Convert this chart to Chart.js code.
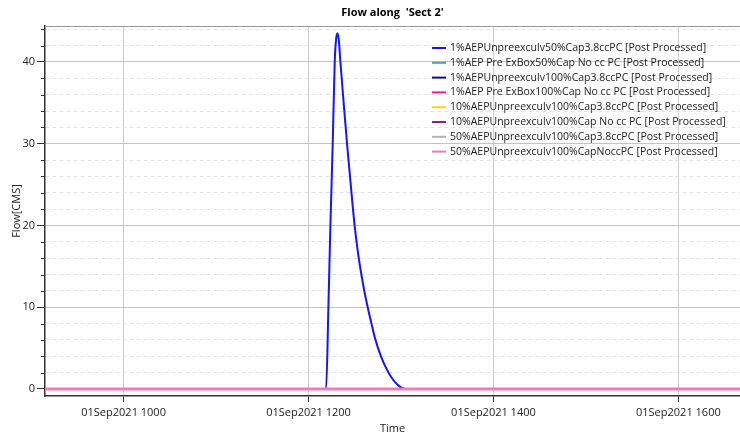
<!DOCTYPE html>
<html>
<head>
<meta charset="utf-8">
<script src="https://cdn.jsdelivr.net/npm/chart.js@4.4.0/dist/chart.umd.min.js"></script>
<style>
html, body { margin: 0; padding: 0; background: #fff; }
</style>
</head>
<body>
<canvas id="chart1" width="740" height="438"></canvas>
<script>
// Series shown in the legend (same order as the picture)
const seriesLabels = [
  '1%AEPUnpreexculv50%Cap3.8ccPC [Post Processed]',
  '1%AEP Pre ExBox50%Cap No cc PC [Post Processed]',
  '1%AEPUnpreexculv100%Cap3.8ccPC [Post Processed]',
  '1%AEP Pre ExBox100%Cap No cc PC [Post Processed]',
  '10%AEPUnpreexculv100%Cap3.8ccPC [Post Processed]',
  '10%AEPUnpreexculv100%Cap No cc PC [Post Processed]',
  '50%AEPUnpreexculv100%Cap3.8ccPC [Post Processed]',
  '50%AEPUnpreexculv100%CapNoccPC [Post Processed]'
];
const seriesColors = ['#1414ff', '#5aa0a8', '#10108c', '#ff1493', '#ffd700', '#8b1a9b', '#b4b4b4', '#ea7fb8'];

// Time = minutes after midnight, 01Sep2021
const flowTimes  = [549, 731.4, 732.9, 734.2, 735.7, 737, 737.9, 738.8, 739.7, 740.7, 742.8, 745, 747.4, 749.8, 752, 754.3, 756.4, 758.4, 760.6, 763.3, 767, 771.9, 775, 777.6, 780, 782.7, 1000];
const flowValues = [0, 0, 10, 20, 30, 40, 42.8, 43.5, 42.6, 40, 35, 30, 25, 20.2, 16.8, 14, 11.8, 10, 8.2, 6.1, 4, 2, 1.1, 0.55, 0.2, 0, 0];
const zeroTimes  = [549, 1000];
const zeroValues = [0, 0];

// Axes
const xTickValues = [600, 720, 840, 960];
const xTickLabels = ['01Sep2021 1000', '01Sep2021 1200', '01Sep2021 1400', '01Sep2021 1600'];
const yTickValues = [0, 2, 4, 6, 8, 10, 12, 14, 16, 18, 20, 22, 24, 26, 28, 30, 32, 34, 36, 38, 40, 42, 44];

const FONT = "'Open Sans', 'Noto Sans', sans-serif";

function toPoints(xs, ys) {
  return xs.map((x, i) => ({ x: x, y: ys[i] }));
}

const datasets = seriesLabels.map((label, i) => ({
  label: label,
  data: i === 0 ? toPoints(flowTimes, flowValues) : toPoints(zeroTimes, zeroValues),
  borderColor: seriesColors[i],
  backgroundColor: seriesColors[i],
  borderWidth: i === seriesLabels.length - 1 ? 3 : 2,
  pointRadius: 0,
  fill: false,
  cubicInterpolationMode: 'monotone',
  order: seriesLabels.length - i
}));

const isMajor = v => v % 10 === 0;

// title, legend, top border and minor ticks
const decorPlugin = {
  id: 'decor',
  afterDraw(chart) {
    const ctx = chart.ctx;
    const area = chart.chartArea;
    const yScale = chart.scales.y;
    ctx.save();

    // top border
    ctx.strokeStyle = '#9a9a9a';
    ctx.lineWidth = 1;
    ctx.beginPath();
    ctx.moveTo(area.left, area.top + 0.5);
    ctx.lineTo(area.right, area.top + 0.5);
    ctx.stroke();

    // minor ticks on y
    ctx.strokeStyle = '#333';
    yTickValues.forEach(v => {
      if (isMajor(v)) return;
      const py = Math.round(yScale.getPixelForValue(v)) + 0.5;
      ctx.beginPath();
      ctx.moveTo(area.left - 4, py);
      ctx.lineTo(area.left, py);
      ctx.stroke();
    });

    // title
    ctx.fillStyle = '#000';
    ctx.font = 'bold 11px ' + FONT;
    ctx.textAlign = 'center';
    ctx.textBaseline = 'middle';
    ctx.fillText("Flow along  'Sect 2'", (area.left + area.right) / 2, 13);

    // legend
    ctx.font = '10.5px ' + FONT;
    ctx.textAlign = 'left';
    const lx = area.left + 387;
    const ly = area.top + 22;
    chart.data.datasets.forEach((ds, i) => {
      const y = ly + i * 14.8;
      ctx.strokeStyle = ds.borderColor;
      ctx.lineWidth = 2;
      ctx.beginPath();
      ctx.moveTo(lx, y);
      ctx.lineTo(lx + 14, y);
      ctx.stroke();
      ctx.fillStyle = '#222';
      ctx.fillText(ds.label, lx + 18, y);
    });
    ctx.restore();
  }
};

const chartConfig = {
  type: 'line',
  data: { datasets: datasets },
  options: {
    responsive: false,
    animation: false,
    layout: { padding: { top: 26, right: 0, bottom: 0, left: 0 } },
    plugins: {
      legend: { display: false },
      title: { display: false },
      tooltip: { enabled: false }
    },
    scales: {
      x: {
        type: 'linear',
        min: 549,
        max: 1000,
        afterBuildTicks: s => { s.ticks = xTickValues.map(v => ({ value: v })); },
        afterFit: s => { s.height = 42; },
        ticks: {
          callback: (v, i) => xTickLabels[i],
          autoSkip: false,
          maxRotation: 0,
          padding: 4,
          color: '#222',
          font: { family: FONT, size: 11 }
        },
        grid: { color: '#cccccc', lineWidth: 1, tickColor: '#333', tickLength: 6 },
        border: { color: '#333', width: 1.5 },
        title: {
          display: true,
          text: 'Time',
          color: '#222',
          font: { family: FONT, size: 11 },
          padding: { top: 0, bottom: 3 }
        }
      },
      y: {
        min: -0.86,
        max: 44.4,
        afterBuildTicks: s => { s.ticks = yTickValues.map(v => ({ value: v })); },
        afterFit: s => { s.width = 45; },
        ticks: {
          callback: v => isMajor(v) ? String(v) : '',
          autoSkip: false,
          padding: 2,
          color: '#222',
          font: { family: FONT, size: 11 }
        },
        grid: {
          color: c => (c.tick && isMajor(c.tick.value)) ? '#c4c4c4' : '#e2e2e2',
          tickColor: c => (c.tick && isMajor(c.tick.value)) ? '#333' : 'rgba(0,0,0,0)',
          tickLength: 8
        },
        border: {
          color: '#333',
          width: 1.5,
          dash: c => (c.tick && !isMajor(c.tick.value)) ? [4, 3] : []
        },
        title: {
          display: true,
          text: 'Flow[CMS]',
          color: '#222',
          font: { family: FONT, size: 11 },
          padding: { top: 10, bottom: 0 }
        }
      }
    }
  },
  plugins: [decorPlugin]
};

function renderChart() {
  const canvas = document.getElementById('chart1');
  new Chart(canvas, chartConfig);
}

renderChart();
</script>
</body>
</html>
